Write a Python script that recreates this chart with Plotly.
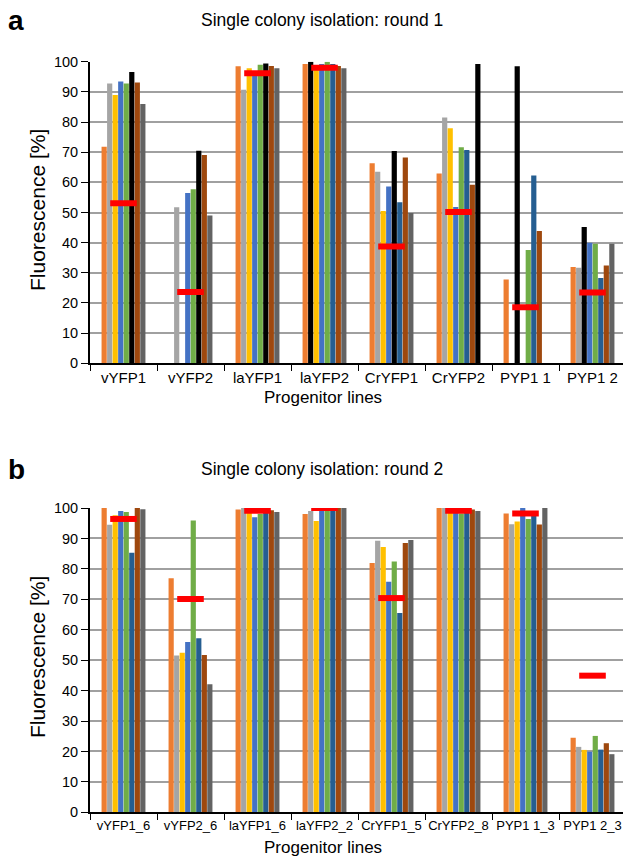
import plotly.graph_objects as go

# ---------------- data ----------------
lines_r1 = ["vYFP1", "vYFP2", "laYFP1", "laYFP2", "CrYFP1", "CrYFP2", "PYP1 1", "PYP1 2"]
lines_r2 = ["vYFP1_6", "vYFP2_6", "laYFP1_6", "laYFP2_2", "CrYFP1_5", "CrYFP2_8", "PYP1 1_3", "PYP1 2_3"]

# round 1: 8 colonies per line (None = no bar)
r1_c1 = [71.8, None, 98.5, 99.2, 66.3, 62.9, 27.8, 31.9]
r1_c2 = [92.8, 51.7, 90.7, 100.0, 63.5, 81.5, None, 31.7]
r1_c3 = [89.0, None, 97.8, 97.8, 50.5, 77.9, 98.5, 45.2]
r1_c4 = [93.4, 56.5, 96.0, 99.2, 58.6, 51.8, None, 40.0]
r1_c5 = [92.8, 57.7, 99.0, 100.0, 70.4, 71.6, 37.6, 39.6]
r1_c6 = [96.6, 70.5, 99.4, 99.2, 53.4, 70.7, 62.3, 28.3]
r1_c7 = [93.1, 69.1, 98.6, 98.6, 68.2, 59.2, 43.9, 32.4]
r1_c8 = [86.0, 49.0, 97.8, 97.8, 49.8, 99.2, None, 39.6]
r1_selected = [5, 5, 5, 1, 4, 7, 2, 2]   # colony picked for next round (drawn black)
r1_progenitor = [53.1, 23.6, 96.2, 98.0, 38.7, 50.2, 18.6, 23.5]

# round 2
r2_c1 = [100.0, 76.9, 99.5, 98.0, 81.9, 100.0, 98.2, 24.5]
r2_c2 = [94.5, 51.5, 100.0, 99.0, 89.2, 100.0, 94.7, 21.5]
r2_c3 = [97.6, 52.4, 98.8, 95.7, 87.2, 98.8, 95.6, 20.5]
r2_c4 = [99.0, 56.0, 97.0, 100.0, 75.8, 99.3, 100.0, 19.9]
r2_c5 = [98.7, 95.9, 98.0, 100.0, 82.4, 98.2, 96.4, 25.1]
r2_c6 = [85.3, 57.2, 99.0, 100.0, 65.5, 99.3, 98.2, 20.6]
r2_c7 = [100.0, 51.7, 99.3, 100.0, 88.5, 99.5, 94.6, 22.7]
r2_c8 = [99.6, 42.1, 98.7, 100.0, 89.5, 99.0, 100.0, 19.1]
r2_progenitor = [96.4, 70.1, 99.1, 100.0, 70.4, 99.1, 98.2, 44.9]

colors = ["#ED7D31", "#A5A5A5", "#FFC000", "#4472C4", "#70AD47", "#255E91", "#9E480E", "#636363"]

r1 = [r1_c1, r1_c2, r1_c3, r1_c4, r1_c5, r1_c6, r1_c7, r1_c8]
r2 = [r2_c1, r2_c2, r2_c3, r2_c4, r2_c5, r2_c6, r2_c7, r2_c8]

FONT = "Liberation Sans, Arial, sans-serif"
fig = go.Figure()

for i, vals in enumerate(r1):
    cols = ["#000000" if r1_selected[j] == i else colors[i] for j in range(len(vals))]
    fig.add_trace(go.Bar(x=lines_r1, y=vals, marker=dict(color=cols, line=dict(width=0)),
                         xaxis="x", yaxis="y", showlegend=False))
fig.add_trace(go.Scatter(x=lines_r1, y=r1_progenitor, mode="markers", xaxis="x", yaxis="y",
                         marker=dict(symbol="line-ew", size=19, color="#FF0000",
                                     line=dict(color="#FF0000", width=6)), showlegend=False))

for i, vals in enumerate(r2):
    fig.add_trace(go.Bar(x=lines_r2, y=vals, marker=dict(color=colors[i], line=dict(width=0)),
                         xaxis="x2", yaxis="y2", showlegend=False))
fig.add_trace(go.Scatter(x=lines_r2, y=r2_progenitor, mode="markers", xaxis="x2", yaxis="y2",
                         marker=dict(symbol="line-ew", size=19, color="#FF0000",
                                     line=dict(color="#FF0000", width=6)), showlegend=False))

H = 862.0
W = 623.0
xdom = [90 / W, 1.0]
ya_dom = [1 - 363.3 / H, 1 - 61.7 / H]
yb_dom = [1 - 812.3 / H, 1 - 508 / H]
xrange = [-0.5, -0.5 + 533 / 67.0]

xcommon = dict(type="category", tickson="boundaries", ticks="outside", ticklen=6, tickwidth=1.3,
               tickcolor="black", showline=True, linecolor="black", linewidth=1.8, tickangle=0,
               showgrid=False, range=xrange, domain=xdom, automargin=False)
ycommon = dict(range=[0, 100], dtick=10, ticks="outside", ticklen=7, tickwidth=1.3, tickcolor="black",
               showline=True, linecolor="black", linewidth=1.8, showgrid=True, gridcolor="#A0A0A0",
               gridwidth=1.5, zeroline=False, automargin=False,
               tickfont=dict(size=14.5, color="black", family=FONT))

def ann(text, x, y, size, bold=False, angle=0, xanchor="center"):
    return dict(text=("<b>%s</b>" % text) if bold else text, x=x / W, y=1 - y / H,
                xref="paper", yref="paper", showarrow=False, textangle=angle,
                font=dict(size=size, color="black", family=FONT), xanchor=xanchor, yanchor="middle")

fig.update_layout(
    width=623, height=862,
    margin=dict(l=0, r=0, t=0, b=0),
    paper_bgcolor="white", plot_bgcolor="white",
    barmode="group", bargap=0.34, bargroupgap=0.06,
    font=dict(family=FONT, color="black"),
    xaxis=dict(**xcommon, anchor="y", tickfont=dict(size=15, color="black", family=FONT)),
    yaxis=dict(**ycommon, domain=ya_dom, anchor="x"),
    xaxis2=dict(**xcommon, anchor="y2", tickfont=dict(size=13, color="black", family=FONT)),
    yaxis2=dict(**ycommon, domain=yb_dom, anchor="x2"),
    annotations=[
        ann("Single colony isolation: round 1", 322, 20, 17.5),
        ann("Single colony isolation: round 2", 322, 469, 17.5),
        ann("a", 6, 20, 28, bold=True, xanchor="left"),
        ann("b", 6, 469, 28, bold=True, xanchor="left"),
        ann("Fluorescence [%]", 37, 210, 21, angle=-90),
        ann("Fluorescence [%]", 37, 657, 21, angle=-90),
        ann("Progenitor lines", 323, 397, 17),
        ann("Progenitor lines", 323, 847, 17),
    ],
)

fig.write_html("out.html", config={"displayModeBar": False},
               post_script="document.body.style.margin='0';document.body.style.overflow='hidden';")
